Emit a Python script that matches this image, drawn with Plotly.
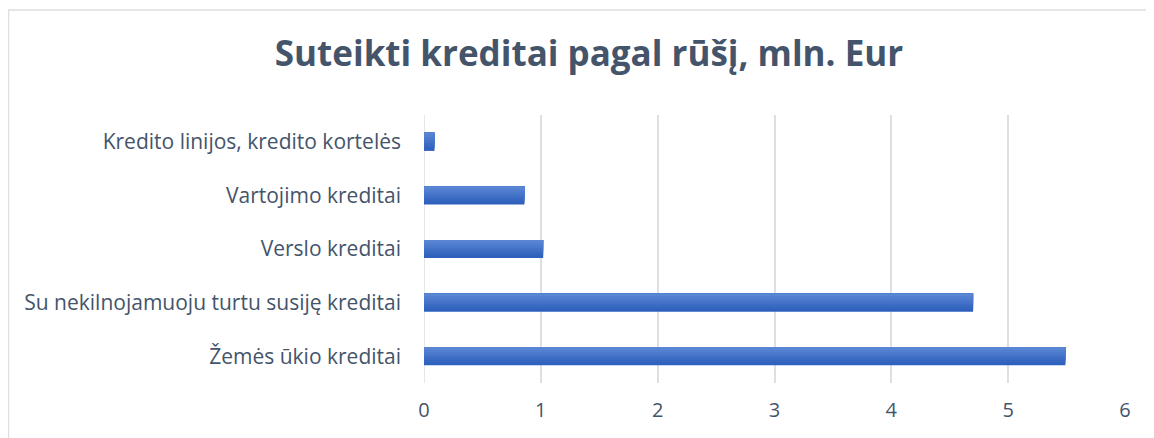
import plotly.graph_objects as go

categories = [
    "Žemės ūkio kreditai",
    "Su nekilnojamuoju turtu susiję kreditai",
    "Verslo kreditai",
    "Vartojimo kreditai",
    "Kredito linijos, kredito kortelės",
]
values = [5.49, 4.70, 1.02, 0.86, 0.09]
x_ticks = [0, 1, 2, 3, 4, 5, 6]

# vertical gradient bands (bottom -> top), styling only
grad_colors = ["#2E61BD", "#3466C0", "#3B6CC4", "#4372C8", "#4B79CC", "#527FD0", "#5985D3"]
bar_w = 0.34
band = bar_w / len(grad_colors)

fig = go.Figure()
for i, c in enumerate(grad_colors):
    fig.add_trace(go.Bar(
        y=categories, x=values, orientation="h",
        width=bar_w - i * band, offset=-bar_w / 2 + i * band,
        marker=dict(color=c, line=dict(width=0)),
        hoverinfo="x+y" if i == 0 else "skip",
    ))

fig.update_layout(
    width=1146, height=430,
    margin=dict(l=416, r=29, t=107, b=55),
    paper_bgcolor="white", plot_bgcolor="white",
    barmode="overlay",
    showlegend=False,
    title=dict(
        text="<b>Suteikti kreditai pagal rūšį, mln. Eur</b>",
        x=0.507, xanchor="center", y=0.893, yanchor="middle",
        font=dict(family="Open Sans", size=35, color="#44546A"),
    ),
    xaxis=dict(
        range=[0, 6], tickvals=x_ticks, showgrid=True, gridcolor="#DCDFE4", gridwidth=1.5,
        zeroline=False, showline=False, ticks="",
        tickfont=dict(family="Open Sans", size=20, color="#44546A"),
        ticklabelstandoff=13,
    ),
    yaxis=dict(
        showgrid=False, zeroline=False, showline=False, ticks="",
        tickfont=dict(family="Open Sans", size=21, color="#44546A"),
        ticklabelstandoff=22,
    ),
    shapes=[
        dict(type="rect", xref="paper", yref="paper",
             x0=-0.5927, x1=1.2, y0=-0.3, y1=1.392,
             line=dict(color="#DCDFE4", width=1.5), fillcolor="rgba(0,0,0,0)", layer="below"),
        dict(type="line", xref="x", yref="paper", x0=0, x1=0, y0=0, y1=1,
             line=dict(color="#DCDFE4", width=1.5), layer="below"),
    ],
)

fig.write_html("out.html")
